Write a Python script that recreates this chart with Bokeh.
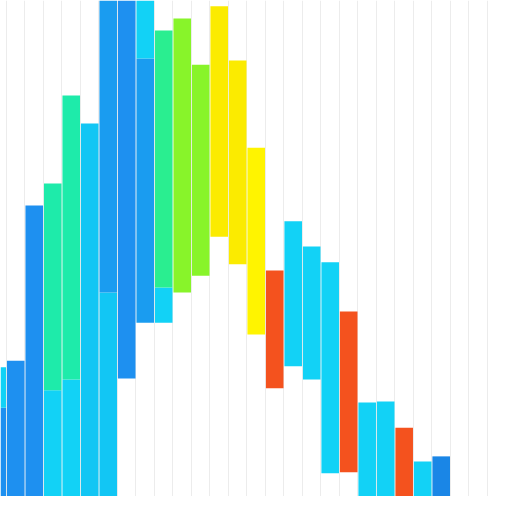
from bokeh.plotting import figure
from bokeh.models import ColumnDataSource, Grid, FixedTicker
from bokeh.embed import file_html
from bokeh.resources import INLINE

# Floating range bars: column index, bottom value, top value, colour group
seg_col = [0, 0, 1, 2, 3, 3, 4, 4, 5, 6, 6, 7, 8, 8, 9, 9,
           10, 11, 12, 13, 14, 15, 16, 17, 18, 19, 20, 21, 22, 23, 24]
seg_bottom = [0.0, 18.9, 0.0, 0.0, 0.0, 22.3, 0.0, 24.4, 0.0, 0.0, 41.4, 24.6, 35.5, 87.1, 35.5, 42.4,
              41.4, 44.7, 52.3, 46.9, 33.2, 22.7, 27.0, 24.4, 6.1, 6.3, 0.0, 0.0, 0.0, 0.0, 0.0]
seg_top = [18.9, 26.8, 28.1, 58.4, 22.3, 62.7, 24.4, 79.9, 74.4, 41.4, 100.0, 100.0, 87.1, 100.0, 42.4, 92.6,
           94.9, 85.9, 97.3, 86.7, 69.7, 45.7, 55.3, 50.4, 47.3, 37.7, 19.9, 20.1, 15.0, 8.4, 9.4]
seg_group = ["blue", "cyan", "blue", "blue", "cyan", "teal", "cyan", "teal", "cyan2", "cyan2", "blue2",
             "blue", "blue2", "cyan", "cyan", "green",
             "lime", "lime", "yellow", "yellow", "yellow2", "orange", "cyan", "cyan", "cyan", "orange",
             "cyan", "cyan", "orange", "cyan", "blue3"]

palette = {
    "blue": "#1E90F0",
    "blue2": "#1A9CF0",
    "blue3": "#1A86E6",
    "cyan": "#12D2F6",
    "cyan2": "#12C6F4",
    "teal": "#1EEBAA",
    "green": "#2AEE90",
    "lime": "#88F42A",
    "yellow": "#FBEB00",
    "yellow2": "#FFF400",
    "orange": "#F4521E",
}

n_cols = 27

source = ColumnDataSource(dict(
    x=seg_col,
    bottom=seg_bottom,
    top=seg_top,
    color=[palette[g] for g in seg_group],
))

p = figure(width=496, height=496, output_backend="svg", toolbar_location=None,
           x_range=(0.176, 26.99), y_range=(1.5625, 98.4375),
           x_axis_location=None, y_axis_location=None,
           min_border=0, outline_line_color=None,
           background_fill_color="white", border_fill_color="white")
p.grid.visible = False

grid = Grid(dimension=0, ticker=FixedTicker(ticks=[i + 0.5 for i in range(-1, n_cols + 1)]),
            grid_line_color="#ececec", grid_line_width=1)
p.add_layout(grid)

p.vbar(x="x", bottom="bottom", top="top", width=0.95, color="color",
       line_color=None, source=source)

open("out.html", "w").write(file_html(p, INLINE))
